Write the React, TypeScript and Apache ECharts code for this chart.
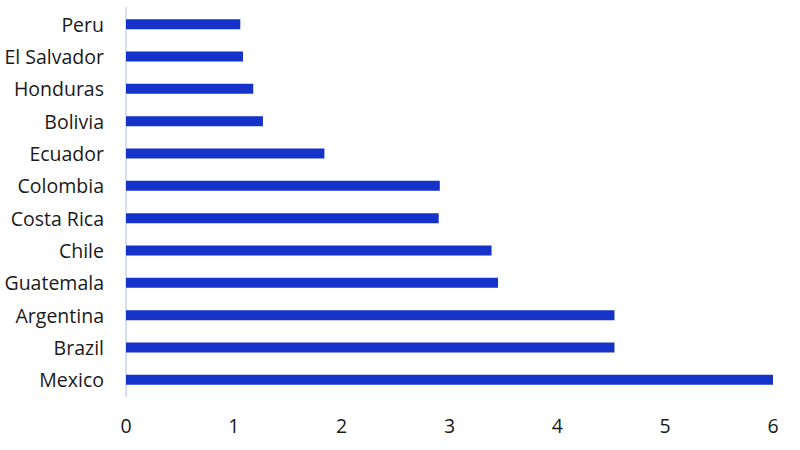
import { useEffect, useRef } from 'react'
import * as echarts from 'echarts'

const countries = [
  'Mexico',
  'Brazil',
  'Argentina',
  'Guatemala',
  'Chile',
  'Costa Rica',
  'Colombia',
  'Ecuador',
  'Bolivia',
  'Honduras',
  'El Salvador',
  'Peru',
]

const values = [6.0, 4.53, 4.53, 3.45, 3.39, 2.9, 2.91, 1.84, 1.27, 1.18, 1.085, 1.06]

const xTicks = [0, 1, 2, 3, 4, 5, 6]

export default function App() {
  const containerRef = useRef<HTMLDivElement>(null)

  useEffect(() => {
    if (!containerRef.current) return

    const chart = echarts.init(containerRef.current, null, { renderer: 'svg' })
    const font = '"Open Sans", sans-serif'

    chart.setOption({
      animation: false,
      grid: { left: 126, right: 27, top: 8, bottom: 54 },
      xAxis: {
        type: 'value',
        min: xTicks[0],
        max: xTicks[xTicks.length - 1],
        interval: 1,
        axisLine: { show: false },
        axisTick: { show: false },
        splitLine: { show: false },
        axisLabel: {
          margin: 19,
          color: '#1a1a1a',
          fontSize: 19.5,
          fontFamily: font,
        },
      },
      yAxis: {
        type: 'category',
        data: countries,
        axisLine: { show: true, lineStyle: { color: '#d6ddf5', width: 2 } },
        axisTick: { show: false },
        axisLabel: {
          margin: 22,
          color: '#1a1a1a',
          fontSize: 19.5,
          fontFamily: font,
        },
      },
      series: [
        {
          type: 'bar',
          data: values,
          barWidth: 10,
          itemStyle: { color: '#1533c9' },
        },
      ],
    })

    return () => {
      chart.dispose()
    }
  }, [])

  return (
    <div
      ref={containerRef}
      style={{ position: 'fixed', left: 0, top: 0, width: '800px', height: '450px', background: '#fff' }}
    />
  )
}
